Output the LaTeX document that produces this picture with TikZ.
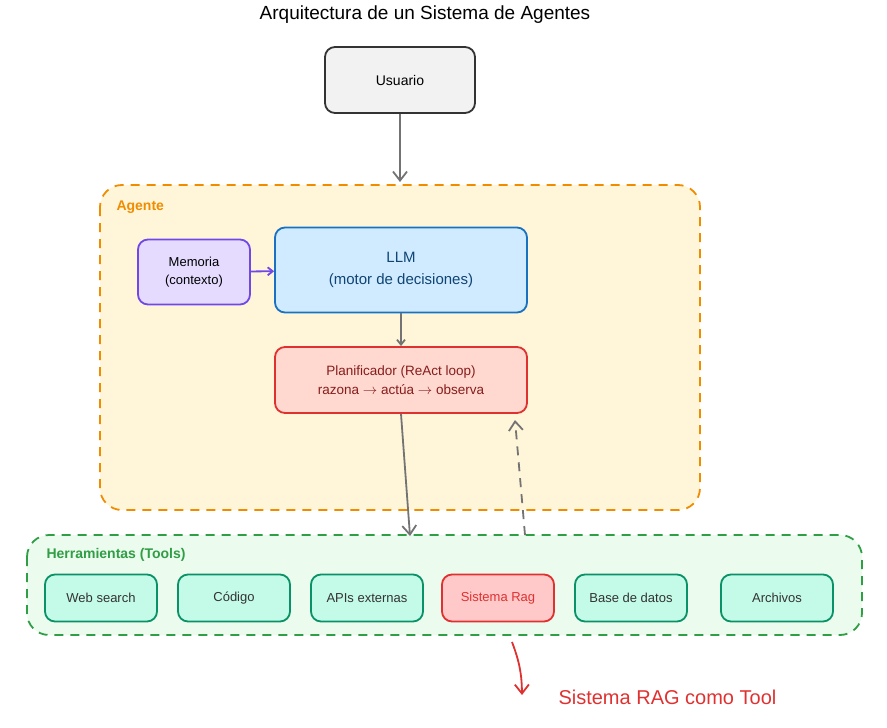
\documentclass[tikz,border=0pt]{standalone}
\usepackage{fontspec}
\setmainfont{Liberation Sans}
\usetikzlibrary{positioning,arrows.meta,backgrounds}
\definecolor{agentfill}{HTML}{FFF6D9}
\definecolor{agentdraw}{HTML}{F08C00}
\definecolor{toolsfill}{HTML}{EBFBEE}
\definecolor{toolsdraw}{HTML}{2F9E44}
\definecolor{toolfill}{HTML}{C3FAE8}
\definecolor{tooldraw}{HTML}{099268}
\definecolor{memfill}{HTML}{E5DBFF}
\definecolor{memdraw}{HTML}{7048E8}
\definecolor{llmfill}{HTML}{D0EBFF}
\definecolor{llmdraw}{HTML}{1971C2}
\definecolor{planfill}{HTML}{FFD8D0}
\definecolor{plandraw}{HTML}{E03131}
\definecolor{ragfill}{HTML}{FFC9C9}
\tikzset{arrows={-{Straight Barb[length=9pt,width=14pt]}}}
\tikzset{
  box/.style={draw, rounded corners=10pt, line width=1.8pt, align=center, font=\fontsize{14}{19}\selectfont, inner sep=0pt},
  tool/.style={box, fill=toolfill, draw=tooldraw, text=black!80, minimum width=112pt, minimum height=47pt, font=\fontsize{13}{16}\selectfont},
  group/.style={draw, dash pattern=on 9pt off 7pt, rounded corners=22pt, line width=1.8pt},
  flow/.style={draw=black!55, line width=1.8pt}
}

\begin{document}
\begin{tikzpicture}[x=1pt, y=-1pt]
  \useasboundingbox (0,0) rectangle (887,728);

  \node (title) at (425,15) {\fontsize{19}{22}\selectfont Arquitectura de un Sistema de Agentes};

  \path[group, fill=agentfill, draw=agentdraw] (100,185) rectangle (700,510);
  \node[anchor=west, text=agentdraw, font=\bfseries\fontsize{14}{16}\selectfont] (agentlabel) at (113,207) {Agente};
  \path[group, fill=toolsfill, draw=toolsdraw] (27,535) rectangle (862,635);
  \node[anchor=west, text=toolsdraw, font=\bfseries\fontsize{14}{16}\selectfont] (toolslabel) at (43,555) {Herramientas (Tools)};

  \node[box, fill=black!5, draw=black!80, minimum width=150pt, minimum height=66pt] (user) at (400,80) {Usuario};
  \node[box, fill=memfill, draw=memdraw, minimum width=112pt, minimum height=65pt, font=\fontsize{13}{18}\selectfont] (mem) at (194,272) {Memoria\\(contexto)};
  \node[box, fill=llmfill, draw=llmdraw, text=llmdraw!60!black, minimum width=252pt, minimum height=85pt, font=\fontsize{15}{22}\selectfont] (llm) at (401,270) {LLM\\(motor de decisiones)};
  \node[box, fill=planfill, draw=plandraw, text=plandraw!60!black, minimum width=252pt, minimum height=66pt, font=\fontsize{13.5}{19}\selectfont] (plan) at (401,380) {Planificador (ReAct loop)\\razona $\rightarrow$ actúa $\rightarrow$ observa};

  \node[tool] (web) at (101,598) {Web search};
  \node[tool] (code) at (234,598) {Código};
  \node[tool] (apis) at (367,598) {APIs externas};
  \node[tool, fill=ragfill, draw=plandraw, text=plandraw] (rag) at (498,598) {Sistema Rag};
  \node[tool] (db) at (631,598) {Base de datos};
  \node[tool] (files) at (777,598) {Archivos};

  \coordinate (toolstop) at (410,536);
  \coordinate (dashfrom) at (525,535);
  \coordinate (dashto) at (515,420);
  \coordinate (ragarrow) at (522,695);
  \node[text=plandraw, anchor=west] (raglabel) at (555,697) {\fontsize{20}{24}\selectfont Sistema RAG como Tool};

  \draw[flow] (user) -- (400,182);
  \draw[line width=1.8pt, draw=memdraw, -{Straight Barb[length=5pt,width=8pt]}] (mem) -- (llm);
  \draw[flow, -{Straight Barb[length=5pt,width=8pt]}] (llm) -- (plan);
  \draw[flow] (plan.south) -- (toolstop);
  \draw[flow, dash pattern=on 9pt off 7pt] (dashfrom) -- (dashto);
  \draw[line width=1.8pt, draw=plandraw] (512,642) to[bend left=10] (ragarrow);
\end{tikzpicture}
\end{document}
